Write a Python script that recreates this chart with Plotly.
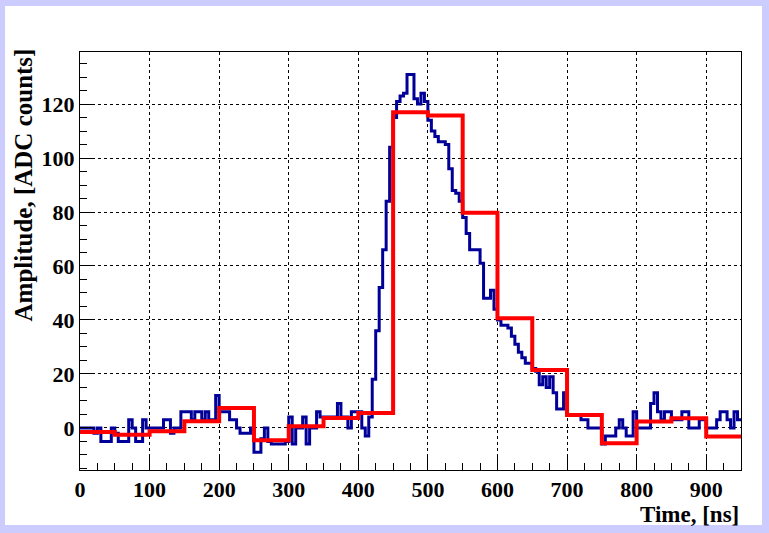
import plotly.graph_objects as go

# ---- data ----
sample_width_ns = 5
waveform = [
    0, 0, 0, 0, -2, 0, -5, -5, -5, 0,
    -2, -5, -5, -5, 3, 0, -5, -5, 3, 0,
    0, 0, 0, 0, 3, 3, -2, 0, 0, 6,
    6, 6, 3, 6, 6, 3, 6, 3, 3, 12,
    6, 6, 6, 3, 3, 0, -2, -2, -2, 0,
    -9, -9, -4, 0, -5, -6, -6, -6, -6, -5,
    4, -6, 0, 0, 4, -6, 0, 0, 6, 4,
    4, 4, 4, 4, 9, 4, 4, 0, 6, 6,
    6, 0, -3, 4, 18, 36, 52, 66, 84, 104,
    115, 121, 123, 124, 131, 131, 122, 120, 124, 121,
    114, 110, 108, 106, 106, 105, 96, 88, 87, 84,
    78, 72, 66, 66, 66, 61, 48, 48, 51, 44,
    40, 38, 38, 37, 34, 31, 28, 26, 24, 24,
    22, 21, 16, 19, 15, 19, 13, 7, 7, 13,
    5, 5, 5, 5, 3, 3, 0, 0, 0, 0,
    -6, -3, -3, -3, 0, 3, 0, -3, -3, 6,
    0, 0, 0, 0, 9, 13, 6, 3, 6, 6,
    3, 3, 3, 6, 6, 0, 0, 0, 3, 3,
    0, 0, 0, 3, 6, 6, 3, 0, 6, 3,
]
rebin_width_ns = 50
rebinned = [-1.5, -2.5, -1.2, 2.5, 7.4, -4.6, 0.6, 3.7, 5.5, 117,
            115.8, 79.7, 40.6, 21.5, 4.8, -5.7, 2.4, 3.6, -3.2]

x_ticks = [0, 100, 200, 300, 400, 500, 600, 700, 800, 900]
y_ticks = [0, 20, 40, 60, 80, 100, 120]
x_range = [0, 950]
y_range = [-15.6, 139.3]

# step-edge arrays
wx = [i * sample_width_ns for i in range(len(waveform) + 1)]
wy = waveform + [waveform[-1]]
rx = [i * rebin_width_ns for i in range(len(rebinned) + 1)]
ry = rebinned + [rebinned[-1]]

W, H = 769, 533
L, R, T, B = 80, 28, 52, 63
pw, ph = W - L - R, H - T - B

def px(xp):
    return (xp - L) / pw

def py(yp):
    return (H - B - yp) / ph

FONT = "Liberation Serif"

fig = go.Figure()
fig.add_trace(go.Scatter(x=wx, y=wy, mode="lines", line=dict(shape="hv", color="#000099", width=3),
                         showlegend=False, hoverinfo="skip"))
fig.add_trace(go.Scatter(x=rx, y=ry, mode="lines", line=dict(shape="hv", color="#ff0000", width=4),
                         showlegend=False, hoverinfo="skip"))

axis_common = dict(
    showline=True, linecolor="black", linewidth=1, mirror=True,
    showgrid=True, gridcolor="black", griddash="dot", gridwidth=1,
    zeroline=False, ticks="inside", tickcolor="black",
    tickfont=dict(family=FONT, size=22, color="black", weight="bold"),
)

fig.update_xaxes(range=x_range, tickvals=x_ticks, ticklen=13, tickwidth=1,
                 minor=dict(dtick=25, ticks="inside", ticklen=7, tickcolor="black", showgrid=False),
                 **axis_common)
fig.update_yaxes(range=y_range, tickvals=y_ticks, ticklen=13, tickwidth=1,
                 minor=dict(dtick=5, ticks="inside", ticklen=7, tickcolor="black", showgrid=False),
                 **axis_common)

fig.add_shape(type="rect", xref="paper", yref="paper",
              x0=px(5), x1=px(762), y0=py(525), y1=py(6),
              fillcolor="white", line=dict(width=0), layer="below")

fig.add_annotation(text="Time, [ns]", xref="paper", yref="paper", x=1, y=py(514),
                   xanchor="right", yanchor="middle", showarrow=False,
                   font=dict(family=FONT, size=23, color="black", weight="bold"))
fig.add_annotation(text="Amplitude, [ADC counts]", xref="paper", yref="paper", x=px(23), y=py(47),
                   xanchor="center", yanchor="top", textangle=-90, showarrow=False,
                   font=dict(family=FONT, size=25, color="black", weight="bold"))

fig.update_layout(
    width=W, height=H, margin=dict(l=L, r=R, t=T, b=B, pad=0),
    paper_bgcolor="#ccccff", plot_bgcolor="white",
)

fig.write_html("out.html")
